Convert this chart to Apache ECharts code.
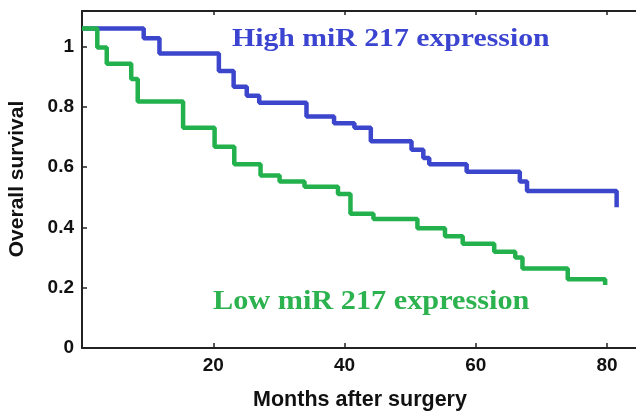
<!DOCTYPE html>
<html>
<head>
<meta charset="utf-8">
<script src="https://cdn.jsdelivr.net/npm/echarts@6/dist/echarts.min.js"></script>
<style>html,body{margin:0;padding:0;background:#fff}#c{width:636px;height:412px}</style>
</head>
<body>
<div id="c"></div>
<script>
var highTimes = [0, 9.4, 11.8, 20.85, 23.1, 25.1, 27.0, 34.2, 38.4, 41.5, 44.0, 50.2, 52.0, 52.9, 58.6, 66.7, 67.8, 81.45];
var highSurv  = [1.06, 1.028, 0.977, 0.919, 0.867, 0.837, 0.814, 0.768, 0.746, 0.731, 0.686, 0.658, 0.630, 0.610, 0.585, 0.552, 0.521, 0.467];
var lowTimes  = [0, 2.33, 3.77, 7.5, 8.49, 15.4, 20.2, 23.2, 27.2, 30.1, 33.9, 39.0, 40.9, 44.4, 51.1, 55.3, 58.0, 62.8, 66.0, 67.1, 74.0, 79.7];
var lowSurv   = [1.06, 0.997, 0.943, 0.892, 0.818, 0.731, 0.668, 0.610, 0.572, 0.552, 0.535, 0.511, 0.445, 0.428, 0.397, 0.371, 0.346, 0.319, 0.300, 0.264, 0.228, 0.209];
var xTickLabels = [20, 40, 60, 80];
var yTickLabels = [0, 0.2, 0.4, 0.6, 0.8, 1];
var highLabel = 'High miR 217 expression';
var lowLabel = 'Low miR 217 expression';
var xTitle = 'Months after surgery';
var yTitle = 'Overall survival';

function pairs(t, v) { return t.map(function (x, i) { return [x, v[i]]; }); }

var blue = '#3c46cc';
var green = '#22b14c';
var axisCol = '#222';
var labelFont = { margin: 8, color: '#111', fontSize: 19, fontWeight: 'bold', fontFamily: 'Liberation Sans' };

var chart = echarts.init(document.getElementById('c'), null, { renderer: 'canvas' });
chart.setOption({
  animation: false,
  backgroundColor: '#fff',
  grid: { left: 82, right: 0, top: 11, bottom: 64 },
  xAxis: [{
    type: 'value', min: 0, max: 84.4, interval: 20,
    axisLine: { lineStyle: { color: axisCol, width: 2 } },
    axisTick: { inside: true, length: 5, customValues: xTickLabels, lineStyle: { color: axisCol, width: 1.5 } },
    splitLine: { show: false },
    axisLabel: Object.assign({ customValues: xTickLabels,
      formatter: function (v) { return String(v); } }, labelFont)
  }, {
    type: 'value', position: 'top', min: 0, max: 84.4, interval: 20,
    axisLine: { onZero: false, lineStyle: { color: axisCol, width: 2 } },
    axisTick: { inside: true, length: 4, customValues: xTickLabels, lineStyle: { color: axisCol, width: 1.5 } },
    splitLine: { show: false },
    axisLabel: { show: false }
  }],
  yAxis: [{
    type: 'value', min: 0, max: 1.118, interval: 0.2,
    axisLine: { show: true, lineStyle: { color: axisCol, width: 2 } },
    axisTick: { show: true, inside: true, length: 5, customValues: yTickLabels, lineStyle: { color: axisCol, width: 1.5 } },
    splitLine: { show: false },
    axisLabel: Object.assign({ customValues: yTickLabels,
      formatter: function (v) { return String(Math.round(v * 10) / 10); } }, labelFont)
  }],
  series: [{
    type: 'line', step: 'end', showSymbol: false, symbol: 'none',
    data: pairs(highTimes, highSurv),
    lineStyle: { color: blue, width: 4.5 }, itemStyle: { color: blue }
  }, {
    type: 'line', step: 'end', showSymbol: false, symbol: 'none',
    data: pairs(lowTimes, lowSurv),
    lineStyle: { color: green, width: 4.5 }, itemStyle: { color: green }
  }],
  graphic: [{
    type: 'text', x: 232, y: 39.4, scaleX: 1.144, originX: 0, originY: 0,
    style: { text: highLabel, font: 'bold 26px "Liberation Serif"', fill: '#3b44d0',
      textAlign: 'left', align: 'left', textVerticalAlign: 'middle', verticalAlign: 'middle' }
  }, {
    type: 'text', x: 213, y: 301.8, scaleX: 1.121, originX: 0, originY: 0,
    style: { text: lowLabel, font: 'bold 27px "Liberation Serif"', fill: '#2cb24e',
      textAlign: 'left', align: 'left', textVerticalAlign: 'middle', verticalAlign: 'middle' }
  }, {
    type: 'text', x: 360, y: 400,
    style: { text: xTitle, font: 'bold 21.5px "Liberation Sans"', fill: '#111',
      textAlign: 'center', align: 'center', textVerticalAlign: 'middle', verticalAlign: 'middle' }
  }, {
    type: 'text', x: 17, y: 179, rotation: Math.PI / 2,
    style: { text: yTitle, font: 'bold 21px "Liberation Sans"', fill: '#111',
      textAlign: 'center', align: 'center', textVerticalAlign: 'middle', verticalAlign: 'middle' }
  }]
});
</script>
</body>
</html>
